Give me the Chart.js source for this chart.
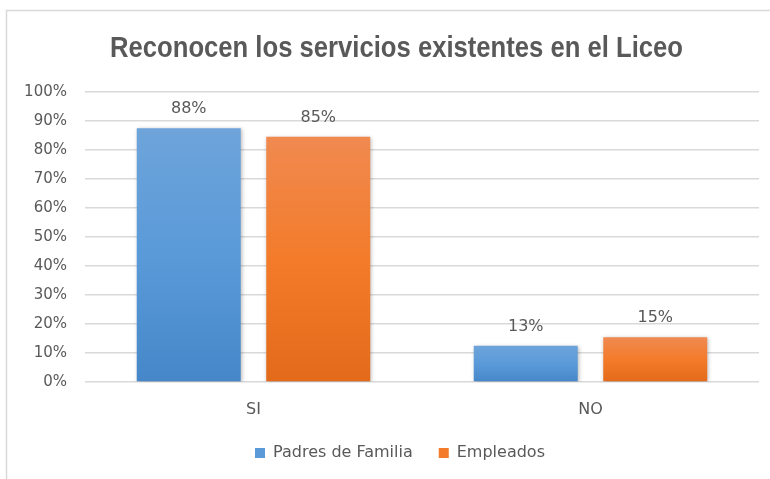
<!DOCTYPE html>
<html><head><meta charset="utf-8">
<script src="https://cdn.jsdelivr.net/npm/chart.js@4/dist/chart.umd.min.js"></script>
<style>html,body{margin:0;padding:0;background:#fff;overflow:hidden}#c{display:block}</style>
</head><body>
<canvas id="c" width="770" height="479"></canvas>
<script>
const categories = ['SI', 'NO'];
const padresValues = [87.5, 12.5];
const empleadosValues = [84.6, 15.4];
const seriesNames = ['Padres de Familia', 'Empleados'];
const yTickValues = [0, 10, 20, 30, 40, 50, 60, 70, 80, 90, 100];
const titleText = 'Reconocen los servicios existentes en el Liceo';

const textColor = '#595959';
const gridColor = '#d9d9d9';
const blueStops = ['#6ea4da', '#5a9ad9', '#4587c8'];
const orangeStops = ['#f08a50', '#f37b2a', '#e36a1a'];

function barGradient(stops, solid) {
  return function (ctx) {
    const chart = ctx.chart;
    if (!chart.chartArea || ctx.type !== 'data') return solid;
    const y = chart.scales.y;
    const top = y.getPixelForValue(ctx.raw);
    const bottom = y.getPixelForValue(0);
    const g = chart.ctx.createLinearGradient(0, top, 0, bottom);
    g.addColorStop(0, stops[0]);
    g.addColorStop(0.5, stops[1]);
    g.addColorStop(1, stops[2]);
    return g;
  };
}

const frame = {
  id: 'frame',
  beforeDraw(chart) {
    const c = chart.ctx;
    c.save();
    c.strokeStyle = gridColor;
    c.lineWidth = 1.5;
    c.beginPath();
    c.moveTo(6.5, 479);
    c.lineTo(6.5, 10.5);
    c.lineTo(770, 10.5);
    c.stroke();
    c.restore();
  }
};

// Title drawn as real text, condensed horizontally to match the narrow bold face
const condensedTitle = {
  id: 'condensedTitle',
  afterDraw(chart) {
    const c = chart.ctx;
    c.save();
    c.font = 'bold 30px "Liberation Sans"';
    c.fillStyle = textColor;
    c.textAlign = 'center';
    c.textBaseline = 'alphabetic';
    const w = c.measureText(titleText).width;
    const sx = 573 / w;
    c.translate(396.5, 57);
    c.scale(sx, 1);
    c.fillText(titleText, 0, 0);
    c.restore();
  }
};

const shadow = {
  id: 'shadow',
  beforeDatasetsDraw(chart) {
    const c = chart.ctx;
    c.save();
    c.shadowColor = 'rgba(0,0,0,0.28)';
    c.shadowBlur = 4;
    c.shadowOffsetX = 1;
    c.shadowOffsetY = 1;
  },
  afterDatasetsDraw(chart) {
    chart.ctx.restore();
  }
};

const valueLabels = {
  id: 'valueLabels',
  afterDatasetsDraw(chart) {
    const c = chart.ctx;
    c.save();
    c.font = '16px "DejaVu Sans"';
    c.fillStyle = textColor;
    c.textAlign = 'center';
    c.textBaseline = 'middle';
    chart.data.datasets.forEach((ds, i) => {
      chart.getDatasetMeta(i).data.forEach((el, j) => {
        c.fillText(Math.round(ds.data[j]) + '%', el.x, el.y - 19);
      });
    });
    c.restore();
  }
};

new Chart(document.getElementById('c'), {
  type: 'bar',
  data: {
    labels: categories,
    datasets: [
      { label: seriesNames[0], data: padresValues, backgroundColor: barGradient(blueStops, blueStops[1]) },
      { label: seriesNames[1], data: empleadosValues, backgroundColor: barGradient(orangeStops, orangeStops[1]) }
    ]
  },
  options: {
    responsive: false,
    animation: false,
    devicePixelRatio: 1,
    categoryPercentage: 0.7685,
    barPercentage: 0.803,
    layout: { padding: { left: 22, right: -8, top: 92, bottom: 8 } },
    plugins: {
      title: { display: false },
      legend: {
        position: 'bottom',
        labels: {
          color: textColor,
          font: { family: '"DejaVu Sans"', size: 16 },
          boxWidth: 10,
          boxHeight: 10,
          padding: 26,
          generateLabels(chart) {
            return chart.data.datasets.map((ds, i) => ({
              text: ds.label,
              fillStyle: i === 0 ? blueStops[1] : orangeStops[1],
              strokeStyle: 'rgba(0,0,0,0)',
              lineWidth: 0,
              fontColor: textColor,
              datasetIndex: i
            }));
          }
        }
      },
      tooltip: { enabled: false }
    },
    scales: {
      x: {
        grid: { display: false },
        border: { display: false },
        afterFit(axis) { axis.height = 37; },
        ticks: { color: textColor, font: { family: '"DejaVu Sans"', size: 16 }, padding: 10 }
      },
      y: {
        min: 0,
        max: 100,
        afterBuildTicks(axis) { axis.ticks = yTickValues.map(v => ({ value: v })); },
        afterFit(axis) { axis.width = 63; },
        grid: { color: gridColor, lineWidth: 1.5, drawTicks: false },
        border: { display: false },
        ticks: {
          color: textColor,
          font: { family: '"DejaVu Sans"', size: 15 },
          padding: 18,
          callback: v => v + '%'
        }
      },
      y2: {
        position: 'right',
        display: true,
        afterFit(axis) { axis.width = 19; },
        grid: { display: false },
        border: { display: false },
        ticks: { display: false }
      }
    }
  },
  plugins: [frame, condensedTitle, shadow, valueLabels]
});
</script>
</body></html>
